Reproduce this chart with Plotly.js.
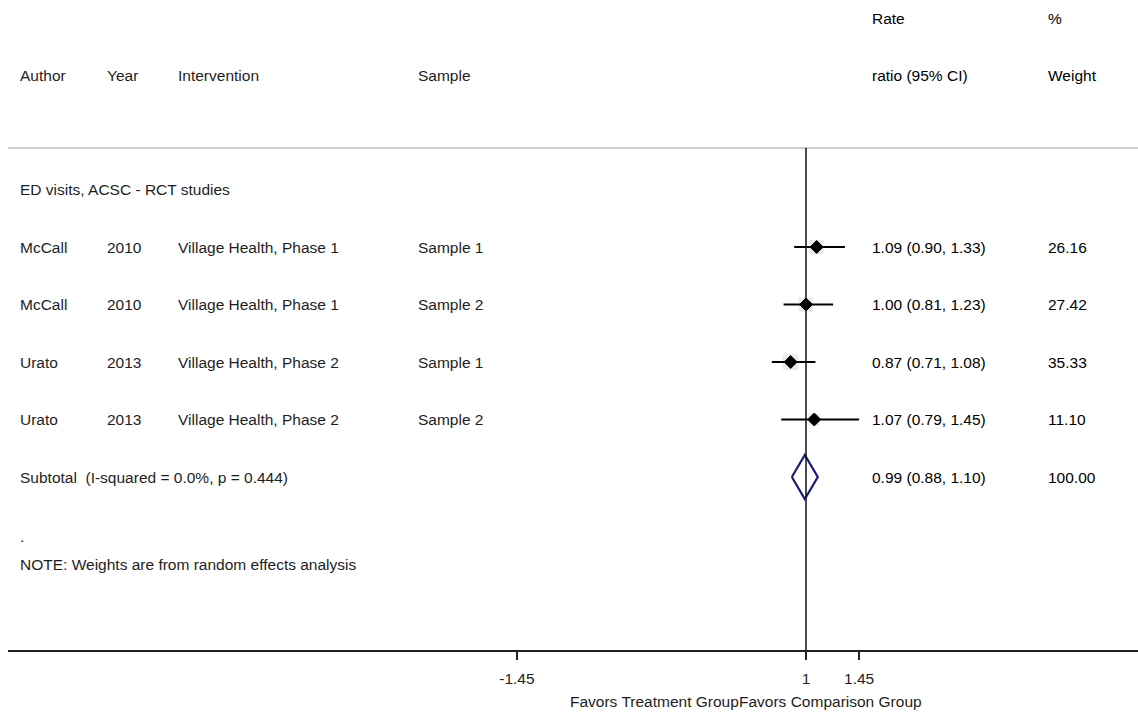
<!DOCTYPE html>
<html>
<head>
<meta charset="utf-8">
<script src="https://cdn.plot.ly/plotly-3.0.1.min.js"></script>
<style>html,body{margin:0;padding:0;background:#fff;}#chart{width:1138px;height:713px;}</style>
</head>
<body>
<div id="chart"></div>
<script>
// ---- data ----
const groupLabel = 'ED visits, ACSC - RCT studies';
const authors = ['McCall', 'McCall', 'Urato', 'Urato'];
const years = ['2010', '2010', '2013', '2013'];
const interventions = ['Village Health, Phase 1', 'Village Health, Phase 1', 'Village Health, Phase 2', 'Village Health, Phase 2'];
const samples = ['Sample 1', 'Sample 2', 'Sample 1', 'Sample 2'];
const rateRatio = [1.09, 1.00, 0.87, 1.07];
const ciLow = [0.90, 0.81, 0.71, 0.79];
const ciHigh = [1.33, 1.23, 1.08, 1.45];
const weights = [26.16, 27.42, 35.33, 11.10];
const pooledEst = 0.99, pooledLow = 0.88, pooledHigh = 1.10, pooledWeight = 100.00;
const subtotalLabel = 'Subtotal  (I-squared = 0.0%, p = 0.444)';
const noteText = 'NOTE: Weights are from random effects analysis';
const tickVals = [-1.45, 1, 1.45];
const tickText = ['-1.45', '1', '1.45'];

// ---- layout helpers ----
const FONT = 'Liberation Sans, Arial, sans-serif';
const FS = 15.5;
const TXT = '#1e1e1e';
const TXT_R = '#000';
const W = 1138, L = 8;
const px = p => (p - L) / (W - L);           // paper x from pixel
const rows = rateRatio.map((_, i) => i);     // study rows
const subRow = rows.length;                  // subtotal row
const f2 = v => v.toFixed(2);

const traces = [];
// weight boxes
traces.push({
  x: rateRatio, y: rows, type: 'scatter', mode: 'markers', hoverinfo: 'skip',
  marker: { symbol: 'square', size: weights.map(w => 6 + Math.sqrt(w) * 1.6), color: 'rgba(170,170,170,0.35)', line: { width: 0 } }
});
// CI + point
traces.push({
  x: rateRatio, y: rows, type: 'scatter', mode: 'markers',
  error_x: { type: 'data', symmetric: false,
    array: rateRatio.map((v, i) => ciHigh[i] - v),
    arrayminus: rateRatio.map((v, i) => v - ciLow[i]),
    width: 0, thickness: 2, color: '#000' },
  marker: { symbol: 'diamond', size: 10, color: '#000', line: { color: '#000', width: 1 } }
});
// pooled diamond
const dh = 0.383;
traces.push({
  x: [pooledLow, pooledEst, pooledHigh, pooledEst, pooledLow],
  y: [subRow, subRow - dh, subRow, subRow + dh, subRow],
  type: 'scatter', mode: 'lines', fill: 'toself', fillcolor: '#fff',
  line: { color: '#1a1a7a', width: 2.2 }, hoverinfo: 'skip'
});

const ann = [];
function addText(xpix, y, text, color) {
  ann.push({ xref: 'paper', yref: 'y', x: px(xpix), y: y, text: text, showarrow: false,
    xanchor: 'left', yanchor: 'middle', font: { family: FONT, size: FS, color: color || TXT } });
}
const yRate = (18 - 247) / 57.5, yHead = (75 - 247) / 57.5;
addText(870, yRate, 'Rate', TXT_R);
addText(1046, yRate, '%', TXT_R);
addText(18, yHead, 'Author');
addText(105, yHead, 'Year');
addText(176, yHead, 'Intervention');
addText(416, yHead, 'Sample');
addText(870, yHead, 'ratio (95% CI)', TXT_R);
addText(1046, yHead, 'Weight', TXT_R);
addText(18, -1, groupLabel);
rows.forEach(i => {
  addText(18, i, authors[i]);
  addText(105, i, years[i]);
  addText(176, i, interventions[i]);
  addText(416, i, samples[i]);
  addText(870, i, f2(rateRatio[i]) + ' (' + f2(ciLow[i]) + ', ' + f2(ciHigh[i]) + ')', TXT_R);
  addText(1046, i, f2(weights[i]), TXT_R);
});
addText(18, subRow, subtotalLabel);
addText(870, subRow, f2(pooledEst) + ' (' + f2(pooledLow) + ', ' + f2(pooledHigh) + ')', TXT_R);
addText(1046, subRow, f2(pooledWeight), TXT_R);
addText(18, (536 - 247) / 57.5, '.');
addText(18, (564 - 247) / 57.5, noteText);
ann.push({ xref: 'paper', yref: 'paper', x: px(741), y: 0, yshift: -51, text: 'Favors Treatment Group', showarrow: false,
  xanchor: 'right', yanchor: 'middle', font: { family: FONT, size: FS, color: TXT } });
ann.push({ xref: 'paper', yref: 'paper', x: px(737), y: 0, yshift: -51, text: 'Favors Comparison Group', showarrow: false,
  xanchor: 'left', yanchor: 'middle', font: { family: FONT, size: FS, color: TXT } });

const yTop = -247 / 57.5, yBot = (650 - 247) / 57.5;
const layout = {
  width: 1138, height: 713,
  margin: { l: L, r: 0, t: 0, b: 63 },
  paper_bgcolor: '#fff', plot_bgcolor: '#fff',
  showlegend: false,
  xaxis: {
    range: [1 - (806 - L) / 118, 1 + (W - 806) / 118],
    tickvals: tickVals, ticktext: tickText,
    showgrid: false, zeroline: false,
    showline: true, linecolor: '#222', linewidth: 1.5,
    ticks: 'outside', ticklen: 8, tickwidth: 1.5, tickcolor: '#222',
    ticklabelstandoff: 6,
    tickfont: { family: FONT, size: FS, color: TXT }
  },
  yaxis: { range: [yBot, yTop], visible: false, showgrid: false, zeroline: false },
  shapes: [
    { type: 'line', xref: 'paper', yref: 'y', x0: 0, x1: 1, y0: (148 - 247) / 57.5, y1: (148 - 247) / 57.5,
      line: { color: '#bdbdbd', width: 1.5 } },
    { type: 'line', xref: 'x', yref: 'y', x0: 1, x1: 1, y0: (148 - 247) / 57.5, y1: yBot,
      line: { color: '#111', width: 1.5 } }
  ],
  annotations: ann
};
Plotly.newPlot('chart', traces, layout, { staticPlot: true, displayModeBar: false });
</script>
</body>
</html>
